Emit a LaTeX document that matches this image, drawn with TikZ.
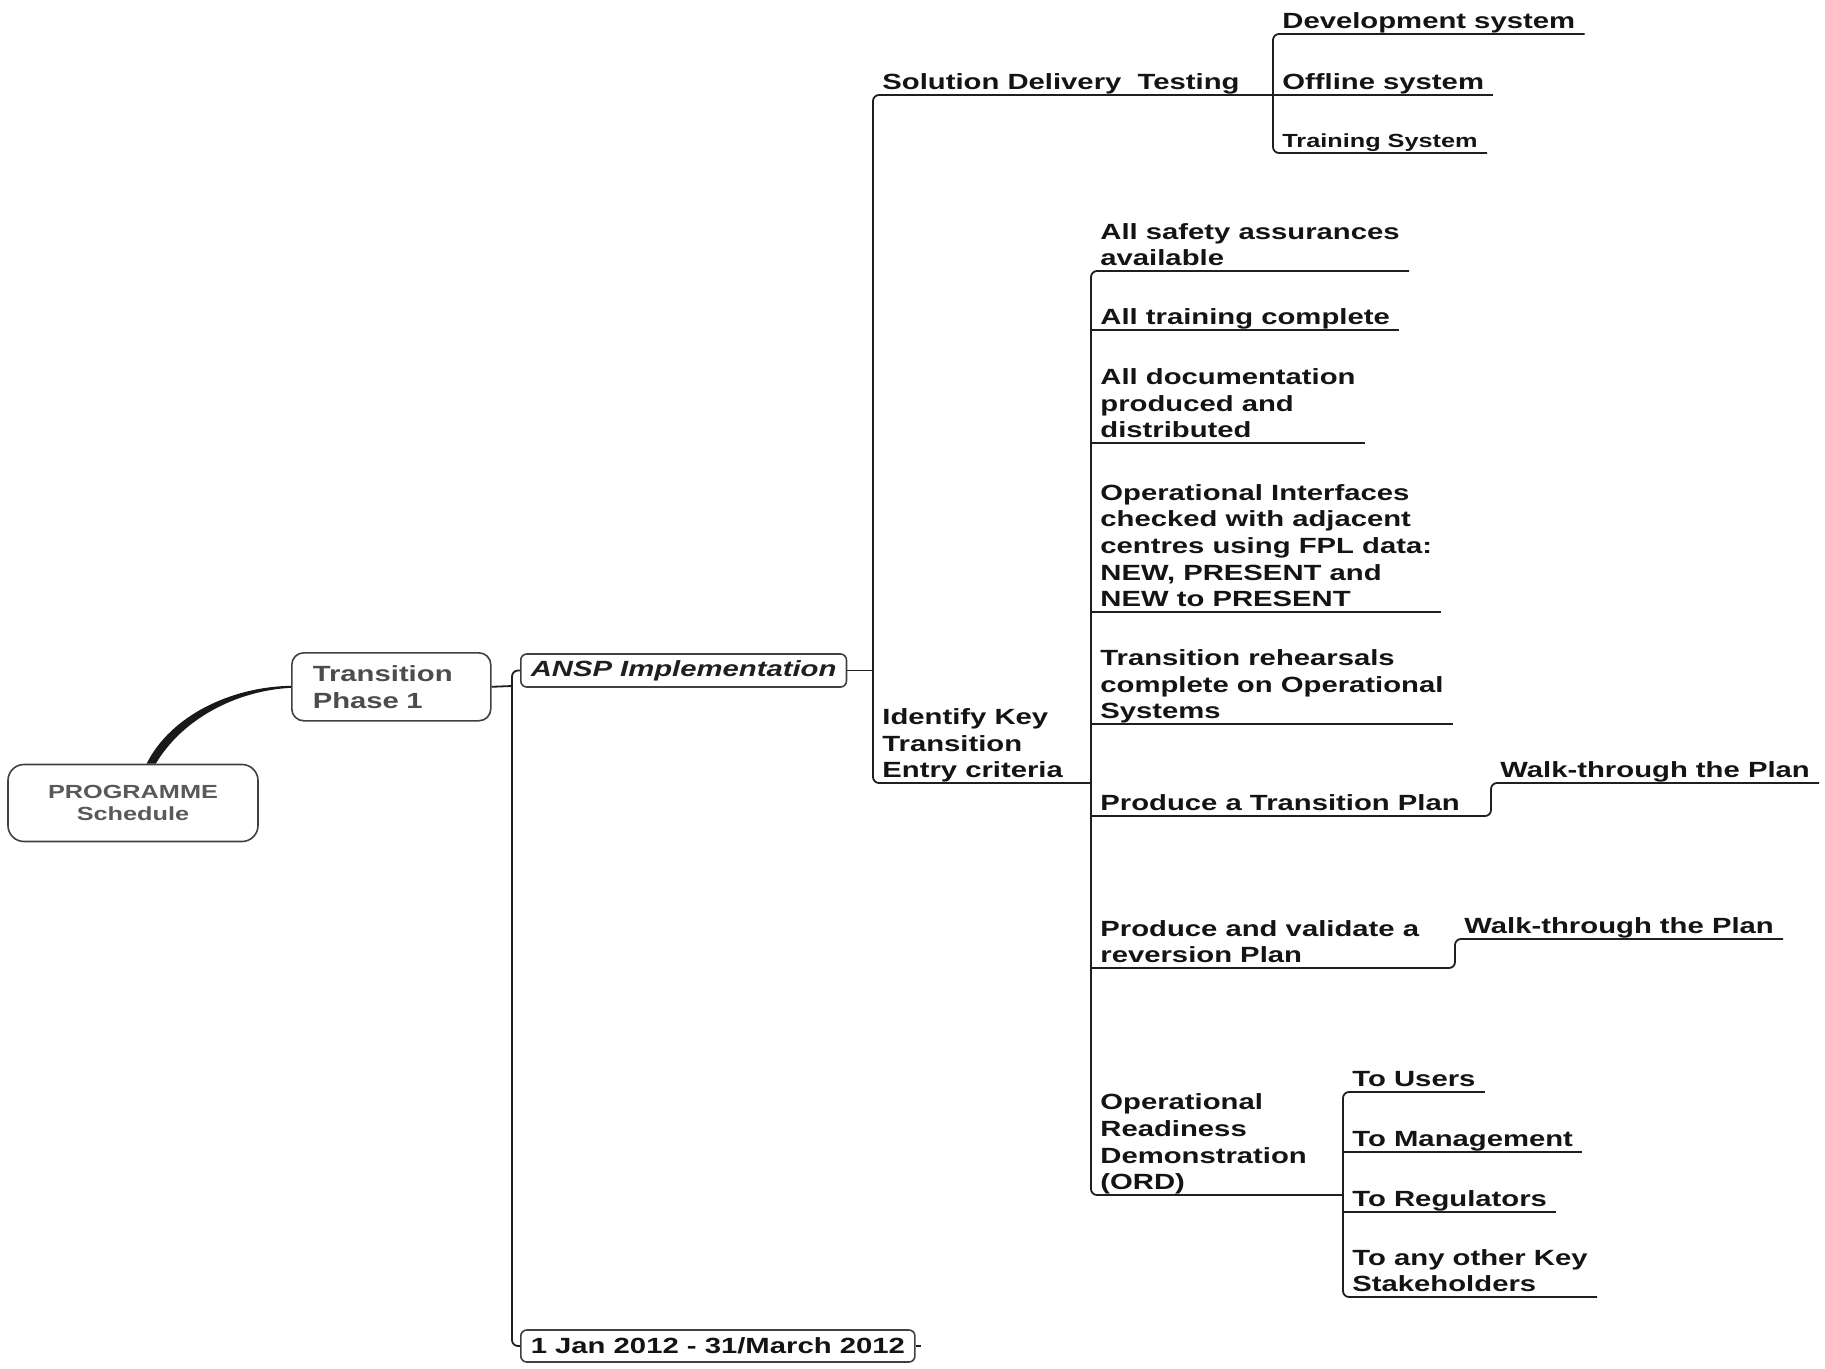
\documentclass[tikz,border=0pt]{standalone}
\usepackage{fontspec}
\setmainfont{Liberation Sans}[FakeStretch=1.33]

\tikzset{
	topic/.style={anchor=south west, inner xsep=4.5pt, inner ysep=0pt, align=left, text=black!92,
		font=\bfseries\fontsize{11}{13.35}\selectfont, execute at end node={\rule[-2.4pt]{0pt}{2pt}}},
	minor/.style={font=\bfseries\fontsize{9.5}{11.5}\selectfont},
	box/.style={draw=black!75, line width=0.8pt, rounded corners=3pt, inner xsep=5pt, inner ysep=1pt,
		font=\bfseries\fontsize{11}{13.35}\selectfont},
	branch/.style={draw=black!88, line width=0.9pt, rounded corners=3pt}
}

\begin{document}
\begin{tikzpicture}[x=0.5pt, y=-0.5pt]

	\useasboundingbox (0,0) rectangle (1825,1369);

	\def\colA{512}
	\def\colB{873}
	\def\colC{1091}
	\def\colD{1273}
	\def\colE{1343}

	\node[box, rounded corners=8pt, minimum width=125pt, minimum height=38.5pt, align=center, text=black!65,
		font=\bfseries\fontsize{9.5}{11}\selectfont] (prog) at (133,803) {PROGRAMME\\Schedule};
	\node[box, rounded corners=6pt, anchor=north west, inner xsep=10.5pt, text width=78.5pt, minimum height=34pt,
		align=left, text=black!70] (phase) at (291,652) {Transition\\Phase 1};
	\node[box, anchor=west, minimum height=16.5pt, text=black!88,
		font=\bfseries\itshape\fontsize{11}{13.35}\selectfont] (ansp) at (520,670.5) {ANSP Implementation};
	\node[box, anchor=west, minimum height=16pt, text=black!92] (date) at (520,1346) {1 Jan 2012 - 31/March 2012};

	\fill[black!90] ([xshift=6.8pt]prog.north) .. controls +(24,-48) and +(-60,1) .. ([yshift=0.5pt]phase.west)
		-- ([yshift=-0.5pt]phase.west) .. controls +(-56,3) and +(26,-44) .. ([xshift=11.4pt]prog.north) -- cycle;

	\coordinate (jA) at (\colA,686);
	\draw[branch] (phase.east) -- (jA);
	\draw[branch] (ansp.west) -| (jA) |- (date.west);
	\draw[branch] (date.east) -- ++(5,0);

	\node[topic] (sdt) at (\colB,95) {Solution Delivery\ \ Testing};
	\node[topic] (ikt) at (\colB,783) {Identify Key\\Transition\\Entry criteria};
	\coordinate (jD) at (\colD,95);
	\coordinate (jC) at (\colC,783);
	\draw[branch] (ansp.east) -- (ansp.east -| sdt.south west);
	\draw[branch] (jD) -- (sdt.south west) -- (ikt.south west) -- (jC);

	\node[topic] (dev) at (\colD,34) {Development system};
	\node[topic] (off) at (\colD,95) {Offline system};
	\node[topic, minor] (trs) at (\colD,153) {Training System};
	\draw[branch] (dev.south east) -- (dev.south west) -- (trs.south west) -- (trs.south east);
	\draw[branch] (off.south west) -- (off.south east);

	\node[topic] (safe) at (\colC,271) {All safety assurances\\available};
	\node[topic] (train) at (\colC,330) {All training complete};
	\node[topic] (docs) at (\colC,443) {All documentation\\produced and\\distributed};
	\node[topic] (iface) at (\colC,612) {Operational Interfaces\\checked with adjacent\\centres using FPL data:\\NEW, PRESENT and\\NEW to PRESENT};
	\node[topic] (rehearse) at (\colC,724) {Transition rehearsals\\complete on Operational\\Systems};
	\node[topic] (tplan) at (\colC,816) {Produce a Transition Plan};
	\node[topic] (rplan) at (\colC,968) {Produce and validate a\\reversion Plan};
	\node[topic] (ord) at (\colC,1195) {Operational\\Readiness\\Demonstration\\(ORD)};
	\coordinate (jE) at (\colE,1195);
	\draw[branch] (safe.south east) -- (safe.south west) -- (ord.south west) -- (jE);
	\foreach \n in {train, docs, iface, rehearse}
		\draw[branch] (\n.south west) -- (\n.south east);

	\node[topic] (walkA) at (1491,783) {Walk-through the Plan};
	\node[topic] (walkB) at (1455,939) {Walk-through the Plan};
	\draw[branch] (tplan.south west) -| (walkA.south west) -- (walkA.south east);
	\draw[branch] (rplan.south west) -| (walkB.south west) -- (walkB.south east);

	\node[topic] (users) at (\colE,1092) {To Users};
	\node[topic] (mgmt) at (\colE,1152) {To Management};
	\node[topic] (regs) at (\colE,1212) {To Regulators};
	\node[topic] (stake) at (\colE,1297) {To any other Key\\Stakeholders};
	\draw[branch] (users.south east) -- (users.south west) -- (stake.south west) -- (stake.south east);
	\foreach \n in {mgmt, regs}
		\draw[branch] (\n.south west) -- (\n.south east);

\end{tikzpicture}
\end{document}
